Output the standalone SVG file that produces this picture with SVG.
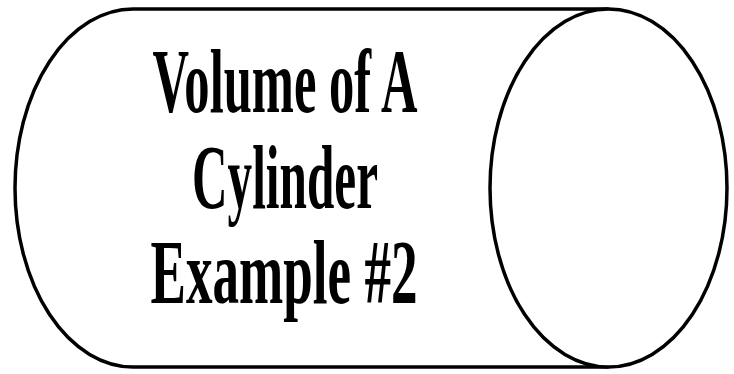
<svg xmlns="http://www.w3.org/2000/svg" width="734" height="374" viewBox="0 0 734 374">
  <style>
    .outline { fill: #fff; stroke: #000; stroke-width: 3.5; }
    .title { font-family: "Liberation Serif", "DejaVu Serif", serif; font-weight: bold; font-size: 90px; fill: #000; text-anchor: middle; }
  </style>
  <rect width="734" height="374" fill="#fff"/>
  <!-- cylinder body: left curved end, top and bottom edges -->
  <g id="cylinder">
    <path class="outline" d="M 608.5 9 L 133 9 A 118 179 0 0 0 133 367 L 608.5 367"/>
    <ellipse id="cylinder-end" class="outline" cx="608.5" cy="188" rx="118.5" ry="179"/>
  </g>
  <!-- title -->
  <g id="title">
    <text class="title" x="285" y="112" textLength="265" lengthAdjust="spacingAndGlyphs">Volume of A</text>
    <text class="title" x="285" y="208" textLength="186" lengthAdjust="spacingAndGlyphs">Cylinder</text>
    <text class="title" x="284" y="303" textLength="267" lengthAdjust="spacingAndGlyphs">Example #2</text>
  </g>
</svg>
